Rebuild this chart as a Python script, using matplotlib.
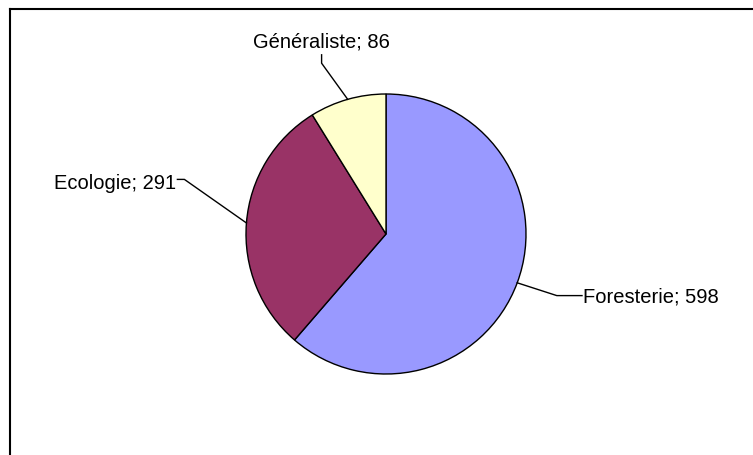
import matplotlib
matplotlib.use("Agg")
import matplotlib.pyplot as plt
import numpy as np

plt.rcParams["font.family"] = ["Liberation Sans", "DejaVu Sans"]

categories = ["Foresterie", "Ecologie", "Généraliste"]
values = [598, 291, 86]
colors = ["#9999FF", "#993366", "#FFFFCC"]

# label layout, in pie-radius units: (elbow, line end, text anchor, ha)
label_layout = [
    ((1.22, -0.44), (1.40, -0.44), (1.41, -0.48), "left"),
    ((-1.44, 0.39), (-1.49, 0.39), (-1.50, 0.33), "right"),
    ((-0.46, 1.22), (-0.46, 1.28), (-0.46, 1.34), "center"),
]

W, H = 753, 456
fig = plt.figure(figsize=(W / 100, H / 100), dpi=100)
fig.patch.set_facecolor("white")

# outer frame (right and bottom run off the image)
frame = fig.add_axes([0, 0, 1, 1])
frame.set_xlim(0, W)
frame.set_ylim(H, 0)
frame.axis("off")
frame.plot([10.5, W + 5], [9.5, 9.5], color="black", lw=1.5)
frame.plot([10.5, 10.5], [9.5, H + 5], color="black", lw=1.5)

cx, cy, r = 386, 235, 140
ax = fig.add_axes([(cx - r * 2.2) / W, (H - cy - r * 2.2) / H, r * 4.4 / W, r * 4.4 / H])
wedges, _ = ax.pie(values, colors=colors, startangle=90, counterclock=False,
                   radius=1, wedgeprops=dict(edgecolor="black", linewidth=1.0))
ax.set_xlim(-2.2, 2.2)
ax.set_ylim(-2.2, 2.2)
ax.set_aspect("auto")
ax.axis("off")

for w, name, val, (elbow, end, txt, ha) in zip(wedges, categories, values, label_layout):
    ang = np.deg2rad((w.theta1 + w.theta2) / 2)
    x0, y0 = np.cos(ang), np.sin(ang)
    ax.plot([x0, elbow[0], end[0]], [y0, elbow[1], end[1]], color="black", lw=1.0)
    ax.text(txt[0], txt[1], f"{name}; {val}", ha=ha, va="baseline", fontsize=14.5)

fig.savefig("out.png", dpi=100)
